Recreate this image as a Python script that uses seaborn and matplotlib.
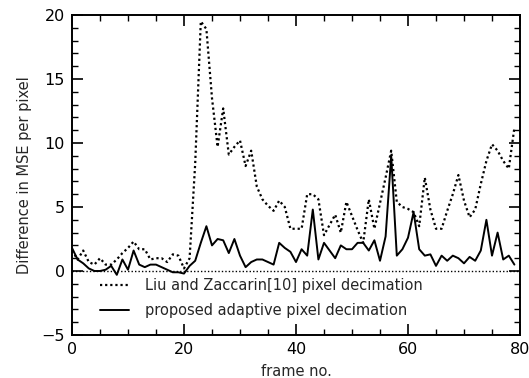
import numpy as np
import pandas as pd
import matplotlib
matplotlib.use("Agg")
import matplotlib.pyplot as plt
import seaborn as sns
from matplotlib.ticker import MultipleLocator

frames = list(range(80))
liu_zaccarin = [1.6, 0.9, 1.6, 0.7, 0.5, 1.0, 0.5, 0.5, 0.9, 1.4,
                1.8, 2.3, 1.7, 1.7, 0.9, 1.0, 1.0, 0.7, 1.3, 1.2,
                0.2, 1.0, 8.4, 19.5, 18.9, 13.5, 9.7, 12.7, 9.1, 9.7,
                10.2, 8.2, 9.4, 6.6, 5.6, 5.1, 4.7, 5.5, 5.0, 3.3,
                3.3, 3.3, 6.0, 6.0, 5.6, 2.8, 3.6, 4.4, 3.0, 5.4,
                4.3, 3.2, 2.2, 5.6, 3.3, 5.3, 7.3, 9.4, 5.4, 5.0,
                4.85, 4.6, 3.5, 7.3, 4.8, 3.3, 3.3, 4.7, 6.0, 7.5,
                5.5, 4.2, 4.8, 6.8, 8.6, 9.9, 9.4, 8.6, 8.0, 11.2]
proposed = [1.8, 0.9, 0.6, 0.2, 0.0, 0.0, 0.1, 0.4, -0.3, 0.9,
            0.1, 1.6, 0.5, 0.3, 0.5, 0.5, 0.3, 0.1, -0.1, -0.1,
            -0.2, 0.4, 0.8, 2.2, 3.5, 2.0, 2.5, 2.4, 1.4, 2.5,
            1.2, 0.3, 0.7, 0.9, 0.9, 0.7, 0.5, 2.2, 1.8, 1.5,
            0.7, 1.7, 1.2, 4.8, 0.9, 2.2, 1.6, 1.0, 2.0, 1.7,
            1.7, 2.2, 2.2, 1.6, 2.4, 0.8, 2.7, 9.0, 1.2, 1.7,
            2.6, 4.6, 1.7, 1.2, 1.3, 0.4, 1.2, 0.8, 1.2, 1.0,
            0.6, 1.1, 0.8, 1.6, 4.0, 1.2, 3.0, 0.9, 1.2, 0.5]
label_liu = "Liu and Zaccarin[10] pixel decimation"
label_prop = "proposed adaptive pixel decimation"

sns.set_style("ticks")
plt.rcParams['font.family'] = ['DejaVu Sans']

fig = plt.figure(figsize=(5.29, 3.78), dpi=100)
ax = fig.add_axes([72/529, 1-335/378, 448/529, 320/378])

df = pd.DataFrame({"frame": frames, "liu": liu_zaccarin, "prop": proposed})
sns.lineplot(data=df, x="frame", y="liu", ax=ax, color="black",
             linestyle=(0, (1, 1.3)), linewidth=1.6, label=label_liu)
sns.lineplot(data=df, x="frame", y="prop", ax=ax, color="black",
             linestyle="-", linewidth=1.4, label=label_prop)
ax.axhline(0, color="black", linestyle=(0, (1, 1.5)), linewidth=1.0)

ax.set_xlim(0, 80)
ax.set_ylim(-5, 20)
ax.xaxis.set_major_locator(MultipleLocator(20))
ax.xaxis.set_minor_locator(MultipleLocator(5))
ax.yaxis.set_major_locator(MultipleLocator(5))
ax.yaxis.set_minor_locator(MultipleLocator(1))
ax.tick_params(which="both", direction="in", top=True, right=True, colors="black",
               labelsize=11.5, pad=5)
ax.tick_params(which="major", length=8, width=1.2)
ax.tick_params(which="minor", length=4, width=1.0)
for s in ax.spines.values():
    s.set_linewidth(1.4)
    s.set_color("black")

ax.set_xlabel("frame no.", fontsize=10.5, labelpad=5)
ax.set_ylabel("Difference in MSE per pixel", fontsize=10.5, labelpad=7)

leg = ax.legend(loc="upper left", bbox_to_anchor=(0.049, 0.195), frameon=False,
                fontsize=10.5, handlelength=2.0, handletextpad=1.1, labelspacing=0.65,
                borderaxespad=0)

fig.savefig("out.png", dpi=100)
